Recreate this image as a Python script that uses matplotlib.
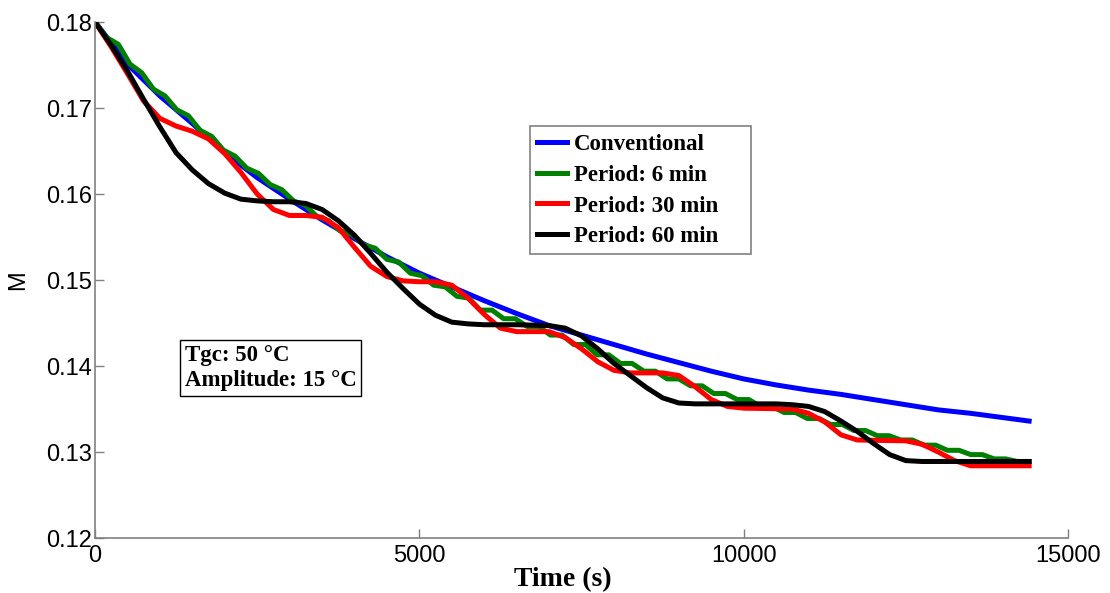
import matplotlib
matplotlib.use('Agg')
import matplotlib.pyplot as plt
from matplotlib.patches import Rectangle
import numpy as np

# Conventional drying curve
blue_t = [0, 500, 1000, 1500, 2000, 2500, 3000, 3500, 4000, 4500, 5000, 5500, 6000, 6500, 7000,
          7500, 8000, 8500, 9000, 9500, 10000, 10500, 11000, 11500, 12000, 12500, 13000, 13500,
          14000, 14400]
blue_m = [0.1800, 0.1751, 0.1714, 0.1682, 0.1648, 0.1619, 0.1594, 0.1570, 0.1548, 0.1527, 0.1508,
          0.1492, 0.1476, 0.1461, 0.1447, 0.1436, 0.1425, 0.1414, 0.1404, 0.1394, 0.1385, 0.1378,
          0.1372, 0.1367, 0.1361, 0.1355, 0.1349, 0.1345, 0.1340, 0.1336]

# Period 6 min (360 s cycles): value at the start of each cycle and at its half
green_period = 360
green_levels = [0.1800, 0.1774, 0.1741, 0.1714, 0.1691, 0.1667, 0.1644, 0.1624, 0.1605, 0.1587,
                0.1569, 0.1553, 0.1537, 0.1521, 0.1505, 0.1492, 0.1479, 0.1465, 0.1455, 0.1446,
                0.1436, 0.1425, 0.1413, 0.1403, 0.1394, 0.1385, 0.1377, 0.1368, 0.1361, 0.1353,
                0.1346, 0.1339, 0.1332, 0.1325, 0.1319, 0.1314, 0.1308, 0.1302, 0.1297, 0.1292,
                0.1289]
green_mid = [0.1782, 0.1751, 0.1722, 0.1698, 0.1674, 0.1651, 0.1630, 0.1611, 0.1592, 0.1574,
             0.1557, 0.1541, 0.1524, 0.1508, 0.1494, 0.1481, 0.1465, 0.1455, 0.1446, 0.1436,
             0.1425, 0.1413, 0.1403, 0.1394, 0.1385, 0.1377, 0.1368, 0.1361, 0.1353, 0.1346,
             0.1339, 0.1332, 0.1325, 0.1319, 0.1314, 0.1308, 0.1302, 0.1297, 0.1292, 0.1289]

# Period 30 min
red_t = [0, 250, 500, 750, 1000, 1250, 1500, 1750, 2000, 2250, 2500, 2750, 3000, 3250, 3500, 3750,
         4000, 4250, 4500, 4750, 5000, 5250, 5500, 5750, 6000, 6250, 6500, 7000, 7250, 7500, 7750,
         8000, 8250, 8750, 9000, 9250, 9500, 9750, 10000, 10750, 11000, 11250, 11500, 11750, 12500,
         12750, 13000, 13250, 13500, 14400]
red_m = [0.1800, 0.1771, 0.1740, 0.1708, 0.1688, 0.1679, 0.1673, 0.1664, 0.1647, 0.1625, 0.1600,
         0.1582, 0.1575, 0.1575, 0.1573, 0.1561, 0.1538, 0.1516, 0.1504, 0.1499, 0.1498, 0.1498,
         0.1494, 0.1479, 0.1460, 0.1444, 0.1440, 0.1440, 0.1433, 0.1420, 0.1405, 0.1395, 0.1392,
         0.1392, 0.1389, 0.1376, 0.1361, 0.1353, 0.1351, 0.1350, 0.1345, 0.1335, 0.1320, 0.1314,
         0.1313, 0.1309, 0.1300, 0.1290, 0.1284, 0.1284]

# Period 60 min
black_t = [0, 250, 500, 750, 1000, 1250, 1500, 1750, 2000, 2250, 2500, 2750, 3000, 3250, 3500,
           3750, 4000, 4250, 4500, 4750, 5000, 5250, 5500, 5750, 6000, 6500, 7000, 7250, 7500,
           7750, 8000, 8250, 8500, 8750, 9000, 9250, 10500, 10750, 11000, 11250, 11500, 11750,
           12000, 12250, 12500, 12750, 14400]
black_m = [0.1800, 0.1773, 0.1743, 0.1710, 0.1678, 0.1648, 0.1628, 0.1612, 0.1601, 0.1594, 0.1592,
           0.1591, 0.1591, 0.1589, 0.1582, 0.1569, 0.1552, 0.1531, 0.1509, 0.1490, 0.1472, 0.1459,
           0.1451, 0.1449, 0.1448, 0.1448, 0.1447, 0.1444, 0.1435, 0.1420, 0.1403, 0.1389, 0.1375,
           0.1363, 0.1357, 0.1356, 0.1356, 0.1355, 0.1353, 0.1347, 0.1336, 0.1324, 0.1310, 0.1297,
           0.1290, 0.1289, 0.1289]

labels = ['Conventional', 'Period: 6 min', 'Period: 30 min', 'Period: 60 min']
colors = ['#0000ff', '#008000', '#ff0000', '#000000']

# interleave cycle-start levels and half-cycle values for the 6 min curve
green_t = np.arange(2 * len(green_mid) + 1) * green_period / 2
green_m = np.empty(len(green_t))
green_m[0::2] = green_levels
green_m[1::2] = green_mid

serif = 'Liberation Serif'
sans = 'Liberation Sans'

fig = plt.figure(figsize=(11.1, 5.93), dpi=100)
ax = fig.add_axes([0.0856, 0.0927, 0.8766, 0.8702])

lw = 3.6
ax.plot(blue_t, blue_m, color=colors[0], lw=lw, label=labels[0])
ax.plot(green_t, green_m, color=colors[1], lw=lw, label=labels[1])
ax.plot(red_t, red_m, color=colors[2], lw=lw, label=labels[2])
ax.plot(black_t, black_m, color=colors[3], lw=lw, label=labels[3])

ax.set_xlim(0, 15000)
ax.set_ylim(0.12, 0.18)
ax.set_xticks([0, 5000, 10000, 15000])
ax.set_yticks([0.12, 0.13, 0.14, 0.15, 0.16, 0.17, 0.18])
ax.set_yticklabels(['0.12', '0.13', '0.14', '0.15', '0.16', '0.17', '0.18'])

for side in ['top', 'right']:
    ax.spines[side].set_visible(False)
for side in ['left', 'bottom']:
    ax.spines[side].set_color('#808080')
    ax.spines[side].set_linewidth(1.2)

ax.tick_params(direction='in', length=6.5, width=1, color='#808080', labelsize=17)
ax.tick_params(axis='x', pad=5)
ax.tick_params(axis='y', pad=2)
for lab in ax.get_xticklabels() + ax.get_yticklabels():
    lab.set_fontfamily(sans)

ax.set_xlabel('Time (s)', fontsize=20, fontweight='bold', family=serif)
ax.xaxis.set_label_coords(0.481, -0.056)
ax.set_ylabel('M', fontsize=17, family=sans)
ax.yaxis.set_label_coords(-0.068, 0.5)

# legend frame drawn separately, MATLAB-style box wider than its text
ax.add_patch(Rectangle((0.447, 0.550), 0.227, 0.248, transform=ax.transAxes, facecolor='white',
                       edgecolor='#808080', linewidth=1.2, zorder=4))
leg = ax.legend(loc='upper left', bbox_to_anchor=(0.447, 0.796), borderaxespad=0,
                prop={'family': serif, 'weight': 'bold', 'size': 16.5}, frameon=False,
                handlelength=1.3, handletextpad=0.3, labelspacing=0.42, borderpad=0.3)
leg.set_zorder(5)

ax.text(0.0925, 0.374, 'Tgc: 50 °C\nAmplitude: 15 °C', transform=ax.transAxes,
        ha='left', va='top', family=serif, fontweight='bold', fontsize=16.5, linespacing=1.25,
        bbox=dict(boxstyle='square,pad=0.2', facecolor='white', edgecolor='black', linewidth=1))

fig.savefig('out.png', dpi=100)
